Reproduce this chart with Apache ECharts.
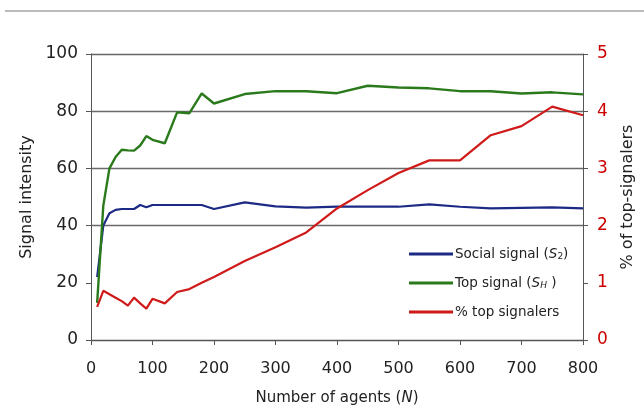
<!DOCTYPE html>
<html>
<head>
<meta charset="utf-8">
<script src="https://cdn.jsdelivr.net/npm/echarts@6/dist/echarts.min.js"></script>
<style>
  html, body { margin: 0; padding: 0; background: #fff; }
  #chart { width: 644px; height: 418px; }
</style>
</head>
<body>
<div id="chart"></div>
<script>
// number of agents (x)
const agents = [10, 20, 30, 40, 50, 60, 70, 80, 90, 100, 120, 140, 160, 180, 200,
  250, 300, 350, 400, 450, 500, 550, 600, 650, 700, 750, 800];
// social signal S2 (left axis)
const socialSignal = [22, 40, 44.3, 45.5, 45.8, 45.8, 45.8, 47.2, 46.4, 47.2, 47.2, 47.2, 47.2, 47.2, 45.8,
  48.1, 46.7, 46.3, 46.6, 46.6, 46.6, 47.4, 46.6, 46, 46.2, 46.4, 46];
// top signal SH (left axis)
const topSignal = [13, 47, 60, 64, 66.5, 66.3, 66.2, 68, 71.3, 70, 68.8, 79.6, 79.3, 86.2, 82.7,
  86, 87, 87, 86.3, 88.9, 88.3, 88, 87, 87, 86.2, 86.6, 85.9];
// % top signalers (right axis)
const pctTop = [0.58, 0.86, 0.8, 0.74, 0.68, 0.6, 0.74, 0.64, 0.55, 0.72, 0.64, 0.84, 0.89, 1.0, 1.1,
  1.38, 1.62, 1.88, 2.3, 2.62, 2.92, 3.14, 3.14, 3.58, 3.74, 4.08, 3.93];

const pairs = (ys) => agents.map((x, i) => [x, ys[i]]);

const chart = echarts.init(document.getElementById("chart"));
const font = "DejaVu Sans";

chart.setOption({
  animation: false,
  textStyle: { fontFamily: font },
  grid: { left: 91, right: 61, top: 54, bottom: 78 },
  graphic: [
    // stray rule left over at the top of the figure
    { type: "line", shape: { x1: 5, y1: 11, x2: 644, y2: 11 }, style: { stroke: "#777", lineWidth: 1.2 } }
  ],
  legend: {
    orient: "vertical",
    left: 404,
    top: 242,
    icon: "rect",
    itemWidth: 44,
    itemHeight: 3,
    itemGap: 15,
    textStyle: {
      fontFamily: font,
      fontSize: 13.5,
      color: "#222",
      padding: [0, 0, 0, -3],
      rich: {
        i: { fontFamily: font, fontSize: 13.5, fontStyle: "italic", color: "#222" },
        sub: { fontFamily: font, fontSize: 9, fontStyle: "italic", color: "#222", padding: [5, 0, 0, 0] },
        subn: { fontFamily: font, fontSize: 9, color: "#222", padding: [5, 0, 0, 0] }
      }
    },
    formatter: (name) => {
      if (name === "Social signal") return "Social signal ({i|S}{subn|2})";
      if (name === "Top signal") return "Top signal ({i|S}{sub|H} )";
      return name;
    },
    data: ["Social signal", "Top signal", "% top signalers"]
  },
  xAxis: {
    type: "value",
    min: 0,
    max: 800,
    interval: 100,
    name: "Number of agents ({i|N})",
    nameLocation: "middle",
    nameGap: 51,
    nameTextStyle: {
      fontFamily: font, fontSize: 15, color: "#222",
      rich: { i: { fontFamily: font, fontSize: 15, fontStyle: "italic", color: "#222" } }
    },
    axisLine: { lineStyle: { color: "#555", width: 1 } },
    axisTick: { show: true, length: 5, lineStyle: { color: "#555" } },
    axisLabel: { fontSize: 16, color: "#222", margin: 21 },
    splitLine: { show: false }
  },
  yAxis: [
    {
      type: "value",
      min: 0,
      max: 100,
      interval: 20,
      name: "Signal intensity",
      nameLocation: "middle",
      nameGap: 53,
      nameTextStyle: { fontFamily: font, fontSize: 16, color: "#222" },
      axisLine: { show: true, lineStyle: { color: "#555", width: 1 } },
      axisTick: { show: true, length: 5, lineStyle: { color: "#555" } },
      axisLabel: { fontSize: 17, color: "#222", margin: 13 },
      splitLine: {
        show: true,
        lineStyle: { color: ["#555", "rgba(0,0,0,0)", "#6a6a6a", "#6a6a6a", "#6a6a6a", "#666"], width: 1.3 }
      }
    },
    {
      type: "value",
      min: 0,
      max: 5,
      interval: 1,
      position: "right",
      name: "% of top-signalers",
      nameLocation: "middle",
      nameGap: 37,
      nameRotate: 90,
      nameTextStyle: { fontFamily: font, fontSize: 16, color: "#222" },
      axisLine: { show: true, lineStyle: { color: "#555", width: 1 } },
      axisTick: { show: true, length: 5, lineStyle: { color: "#555" } },
      axisLabel: { fontSize: 17, color: "#cc0000", margin: 14 },
      splitLine: { show: false }
    }
  ],
  series: [
    {
      name: "Social signal",
      type: "line",
      yAxisIndex: 0,
      data: pairs(socialSignal),
      showSymbol: false,
      symbol: "none",
      color: "#1c2a85",
      lineStyle: { color: "#1c2a85", width: 2.2 }
    },
    {
      name: "Top signal",
      type: "line",
      yAxisIndex: 0,
      data: pairs(topSignal),
      showSymbol: false,
      symbol: "none",
      color: "#2a7a1c",
      lineStyle: { color: "#2a7a1c", width: 2.4 }
    },
    {
      name: "% top signalers",
      type: "line",
      yAxisIndex: 1,
      data: pairs(pctTop),
      showSymbol: false,
      symbol: "none",
      color: "#d01a1a",
      lineStyle: { color: "#d01a1a", width: 2.2 }
    }
  ]
});
</script>
</body>
</html>
